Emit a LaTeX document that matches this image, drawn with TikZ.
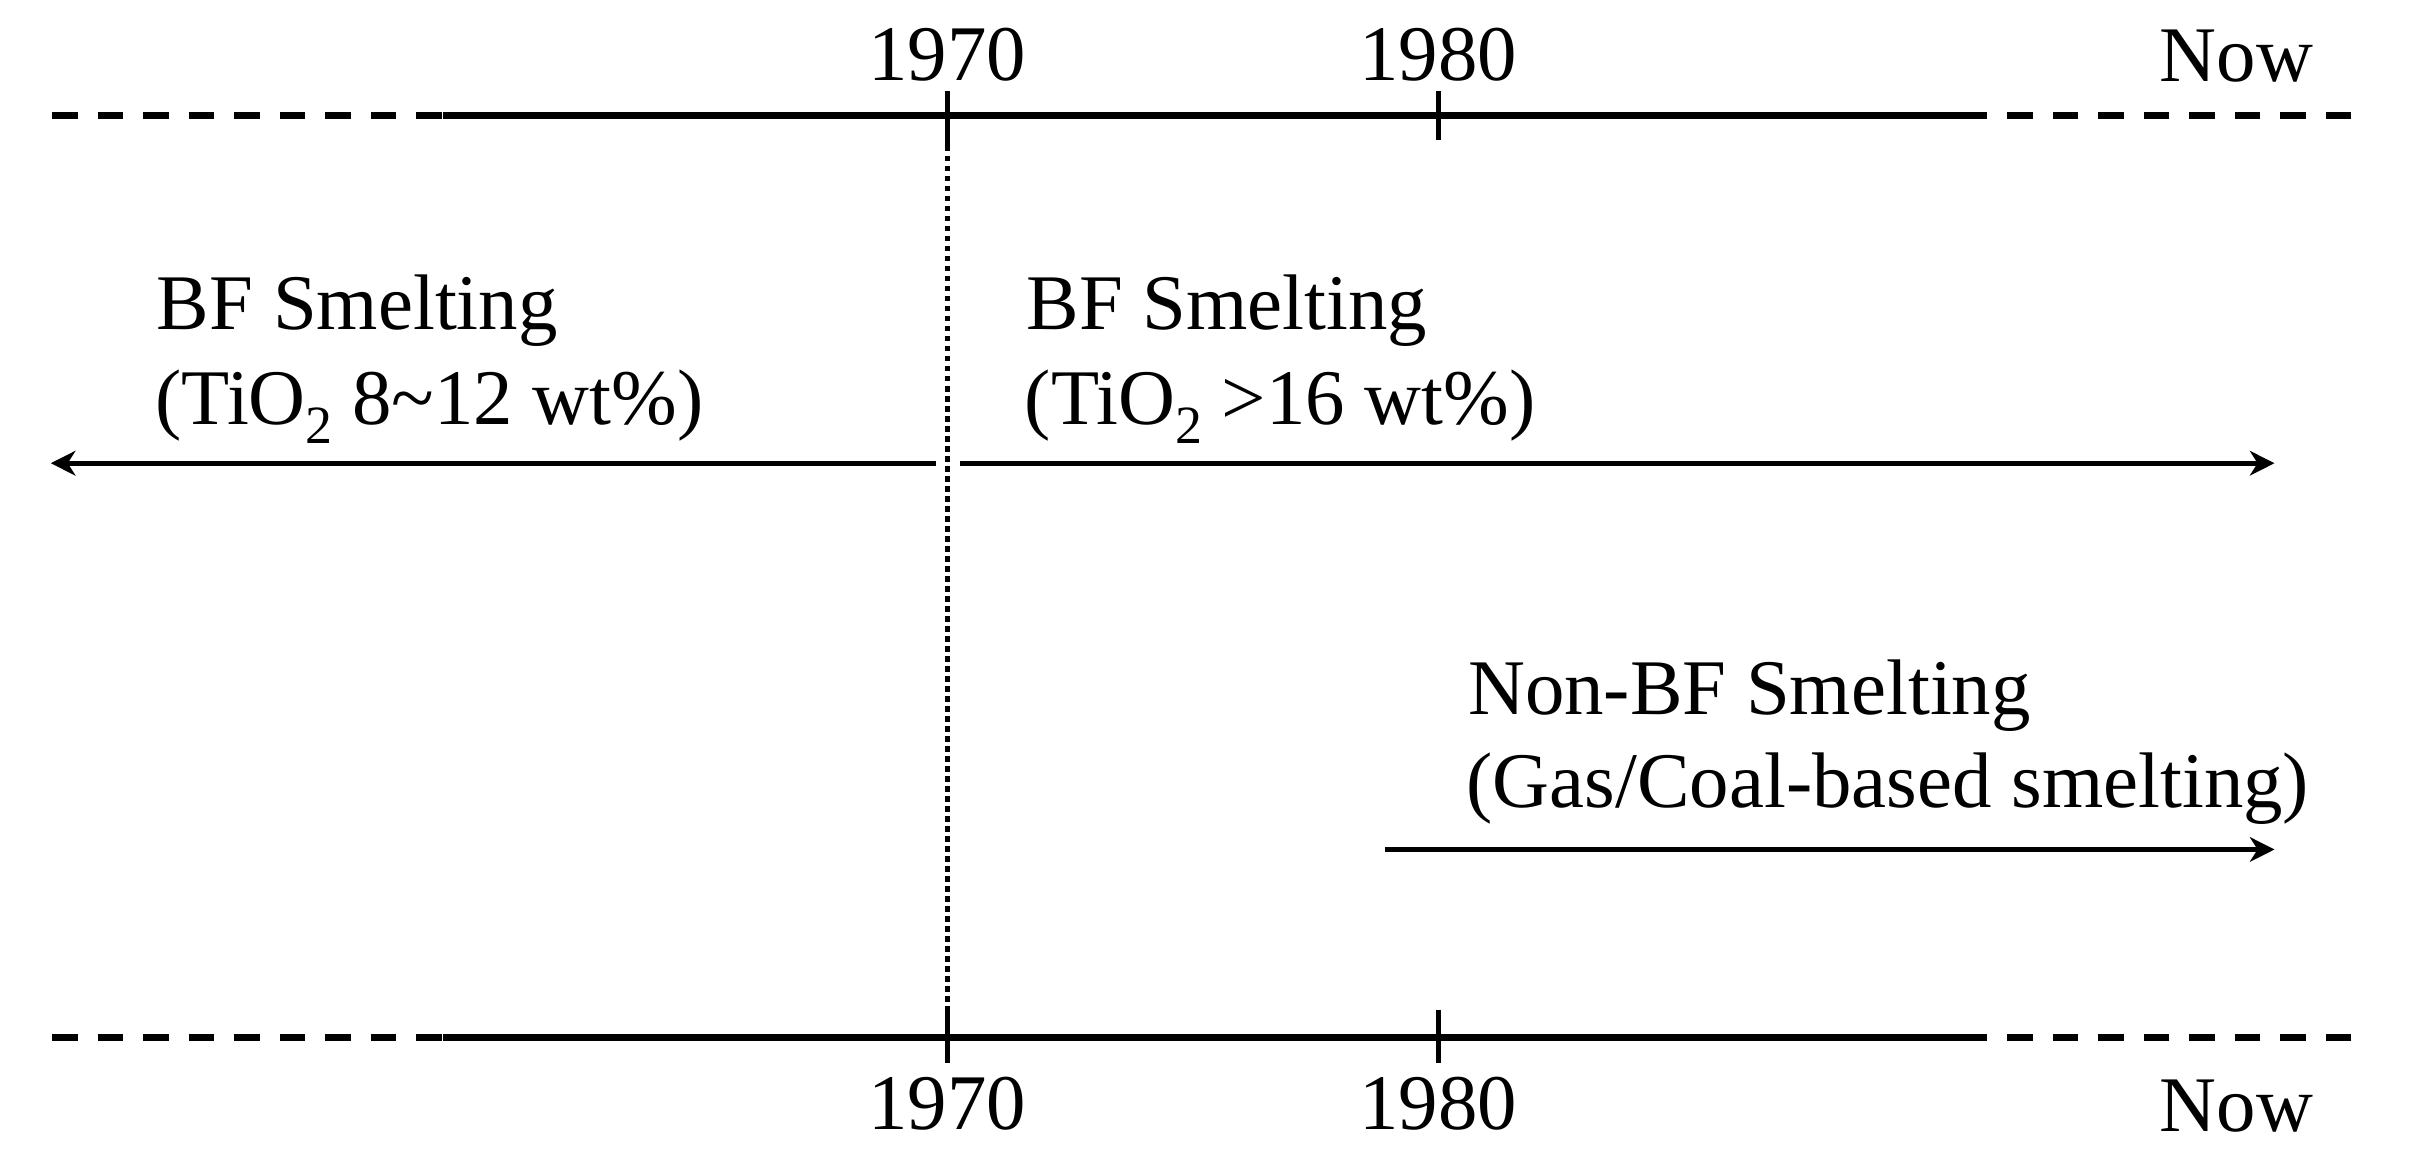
\documentclass[tikz,border=0pt]{standalone}
\usepackage{fontspec}
\setmainfont{Liberation Serif}
\usetikzlibrary{arrows.meta}
\newcommand\chemsub[1]{\raisebox{-6pt}{\fontsize{17.5pt}{20pt}\selectfont #1}}
\begin{document}
\begin{tikzpicture}[x=0.5pt,y=-0.5pt,
  lbl/.style={font=\fontsize{25.6pt}{30pt}\selectfont, inner sep=0pt, outer sep=0pt},
  axisline/.style={line width=2.2pt},
  axisdash/.style={line width=2.2pt, dash pattern=on 8.3pt off 6.5pt},
  tickmark/.style={line width=1.6pt},
  guide/.style={line width=1.5pt, dash pattern=on 1.7pt off 1.55pt},
  period/.style={line width=1.5pt, -{Stealth[length=8pt,width=8pt,inset=2.5pt]}}]
\useasboundingbox (0,0) rectangle (1568,760);
% top axis
\coordinate (tL) at (33.8,75);
\coordinate (tLs) at (288,75);
\coordinate (tRs) at (1288,75);
\coordinate (tR) at (1528,75);
\draw[axisdash] (tL) -- (tLs);
\draw[axisline] (tLs) -- (tRs);
\draw[axisdash] (tR) -- (tRs);
% bottom axis
\coordinate (bL) at (33.8,674);
\coordinate (bLs) at (288,674);
\coordinate (bRs) at (1288,674);
\coordinate (bR) at (1528,674);
\draw[axisdash] (bL) -- (bLs);
\draw[axisline] (bLs) -- (bRs);
\draw[axisdash] (bR) -- (bRs);
% ticks
\coordinate (t70a) at (615.5,59);
\coordinate (t70b) at (615.5,95);
\coordinate (t80a) at (934.5,59);
\coordinate (t80b) at (934.5,91);
\coordinate (b70a) at (615.5,656);
\coordinate (b70b) at (615.5,691);
\coordinate (b80a) at (934.5,656);
\coordinate (b80b) at (934.5,691);
\draw[tickmark] (t70a) -- (t70b);
\draw[tickmark] (t80a) -- (t80b);
\draw[tickmark] (b70a) -- (b70b);
\draw[tickmark] (b80a) -- (b80b);
% dotted 1970 guide
\draw[guide] (t70b) -- (b70a);
% year labels
\node[lbl, anchor=base] (y70t) at (615.5,52) {1970};
\node[lbl, anchor=base] (y80t) at (934.5,52) {1980};
\node[lbl, anchor=base east] (nowt) at (1503,53) {Now};
\node[lbl, anchor=base] (y70b) at (615.5,734) {1970};
\node[lbl, anchor=base] (y80b) at (934.5,734) {1980};
\node[lbl, anchor=base east] (nowb) at (1503,735) {Now};
% period arrows
\coordinate (aLs) at (608,301);
\coordinate (aLe) at (33,301);
\coordinate (aRs) at (624,301);
\coordinate (aRe) at (1478,301);
\coordinate (aNs) at (900,552);
\coordinate (aNe) at (1478,552);
\draw[period] (aLs) -- (aLe);
\draw[period] (aRs) -- (aRe);
\draw[period] (aNs) -- (aNe);
% period labels
\node[lbl, anchor=base west] (bfl1) at (102,214) {BF Smelting};
\node[lbl, anchor=base west] (bfl2) at (101,276) {(TiO\chemsub{2} 8\textasciitilde12 wt\%)};
\node[lbl, anchor=base west] (bfr1) at (667,214) {BF Smelting};
\node[lbl, anchor=base west] (bfr2) at (666,276) {(TiO\chemsub{2} >16 wt\%)};
\node[lbl, anchor=base west] (nbf1) at (954,464) {Non-BF Smelting};
\node[lbl, anchor=base west] (nbf2) at (953,525) {(Gas/Coal-based smelting)};
\end{tikzpicture}
\end{document}
